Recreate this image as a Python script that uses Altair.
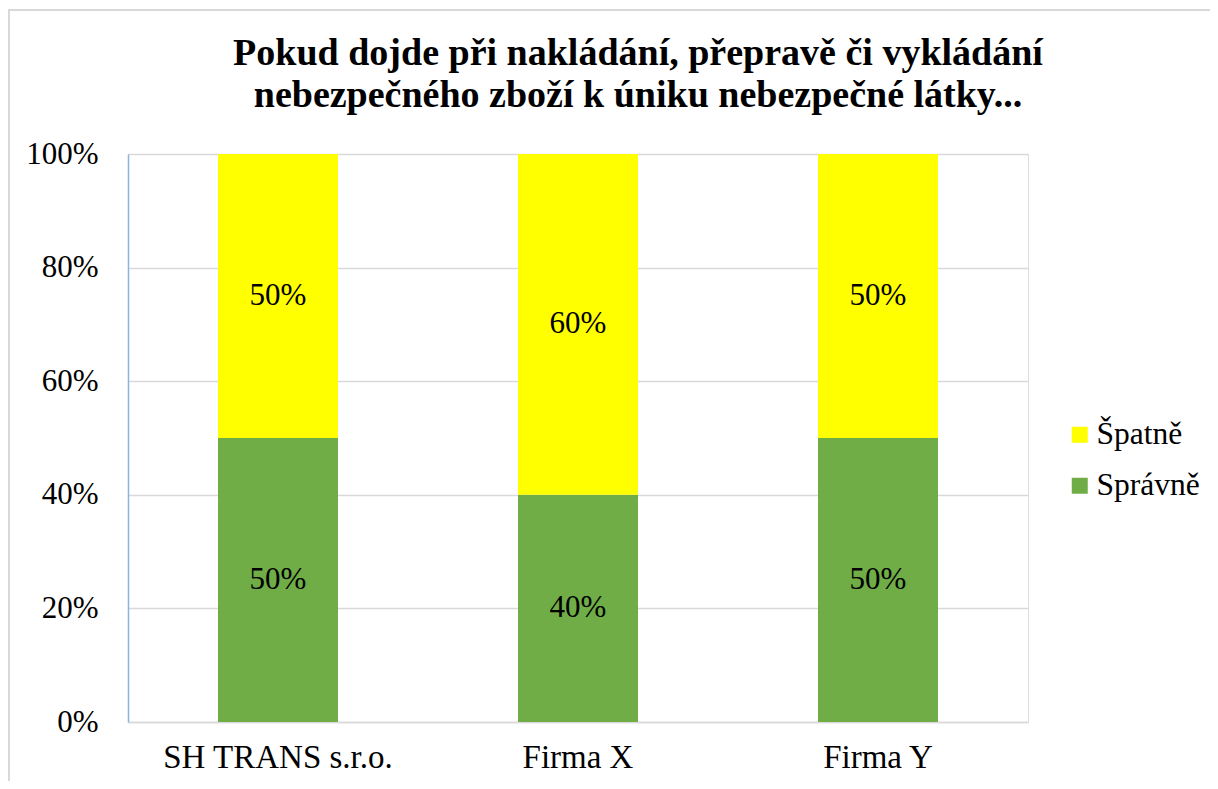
import altair as alt
import pandas as pd

companies = ["SH TRANS s.r.o.", "Firma X", "Firma Y"]
spravne = [0.50, 0.40, 0.50]
spatne = [0.50, 0.60, 0.50]
series = ["Špatně", "Správně"]
colors = ["#ffff00", "#70ad47"]
title_lines = ["Pokud dojde při nakládání, přepravě či vykládání",
               "nebezpečného zboží k úniku nebezpečné látky..."]

rows = []
for c, a, b in zip(companies, spravne, spatne):
    rows.append({"firma": c, "serie": "Správně", "hodnota": a, "poradi": 0})
    rows.append({"firma": c, "serie": "Špatně", "hodnota": b, "poradi": 1})
df = pd.DataFrame(rows)

FONT = "Liberation Serif, Times New Roman, serif"

base = alt.Chart(df)

bars = base.mark_bar().encode(
    x=alt.X("firma:N", sort=companies, title=None,
            scale=alt.Scale(paddingInner=0.6, paddingOuter=0.3),
            axis=alt.Axis(labelAngle=0, labelFont=FONT, labelFontSize=33,
                          labelColor="black", labelPadding=19, ticks=False,
                          labelLimit=0,
                          domainColor="#d9d9d9", domainWidth=1.5)),
    y=alt.Y("hodnota:Q", stack="zero", title=None,
            scale=alt.Scale(domain=[0, 1]),
            axis=alt.Axis(format=".0%", values=[0, 0.2, 0.4, 0.6, 0.8, 1.0],
                          labelFont=FONT, labelFontSize=31, labelColor="black",
                          labelPadding=30, ticks=False, grid=True,
                          gridColor="#d9d9d9", gridWidth=1.5,
                          domainColor="#8db3e2", domainWidth=1.5)),
    color=alt.Color("serie:N", sort=series,
                    scale=alt.Scale(domain=series, range=colors),
                    legend=alt.Legend(title=None, orient="none", legendX=936,
                                      legendY=265, labelFont=FONT,
                                      labelFontSize=31.5, labelColor="black",
                                      symbolType="square", symbolSize=256,
                                      symbolStrokeWidth=0, rowPadding=18,
                                      labelOffset=1, padding=0)),
    order=alt.Order("poradi:Q"),
)

labels = base.mark_text(font=FONT, fontSize=31, color="black").encode(
    x=alt.X("firma:N", sort=companies),
    y=alt.Y("mid:Q"),
    text=alt.Text("hodnota:Q", format=".0%"),
).transform_stack(
    stack="hodnota", groupby=["firma"], as_=["y0", "y1"],
    sort=[alt.SortField("poradi", order="ascending")]
).transform_calculate(mid="(datum.y0 + datum.y1) / 2")

border = alt.Chart(pd.DataFrame({"a": [0]})).mark_rect(
    fill=None, stroke="#d9d9d9", strokeWidth=2
).encode(x=alt.value(-119), x2=alt.value(1300),
         y=alt.value(-144), y2=alt.value(900))

chart = alt.layer(border, bars, labels).properties(
    width=900, height=568,
    title=alt.TitleParams(text=title_lines, font=FONT, fontSize=38,
                          fontWeight="bold", color="black", lineHeight=42,
                          dx=60, offset=-106, anchor="middle"),
    padding={"left": 120, "top": 146, "right": 182, "bottom": 59},
    autosize=alt.AutoSizeParams(type="none"),
).configure_view(stroke=None).configure(background="white")

chart.save("out.html", embed_options={"renderer": "svg", "actions": False})
